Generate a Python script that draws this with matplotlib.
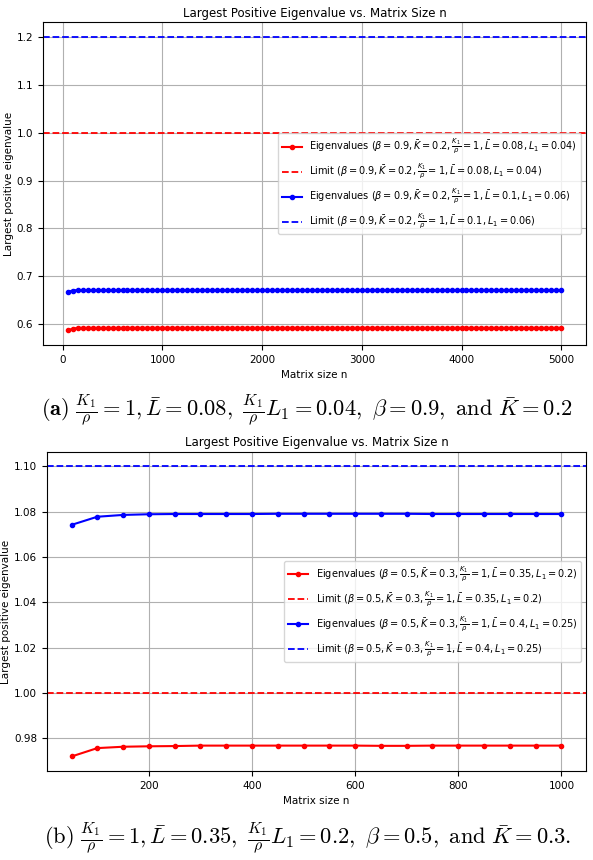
import numpy as np
import matplotlib.pyplot as plt

# panel (a): n = 50 .. 5000
n_a = list(range(50, 5001, 50))
eig_a_red = [0.587, 0.590] + [0.592] * 98
eig_a_blue = [0.667, 0.670] + [0.671] * 98
limit_a_red = 1.0
limit_a_blue = 1.2
labels_a = [
    r'Eigenvalues ($\beta = 0.9, \bar{K} = 0.2, \frac{K_1}{\rho} = 1, \bar{L} = 0.08, L_1 = 0.04$)',
    r'Limit ($\beta = 0.9, \bar{K} = 0.2, \frac{K_1}{\rho} = 1, \bar{L} = 0.08, L_1 = 0.04$)',
    r'Eigenvalues ($\beta = 0.9, \bar{K} = 0.2, \frac{K_1}{\rho} = 1, \bar{L} = 0.1, L_1 = 0.06$)',
    r'Limit ($\beta = 0.9, \bar{K} = 0.2, \frac{K_1}{\rho} = 1, \bar{L} = 0.1, L_1 = 0.06$)',
]

# panel (b): n = 50 .. 1000
n_b = list(range(50, 1001, 50))
eig_b_red = [0.9720, 0.9757, 0.9763, 0.9765, 0.9766, 0.9768, 0.9768, 0.9768,
             0.9768, 0.9768, 0.9768, 0.9768, 0.9767, 0.9767, 0.9768, 0.9768,
             0.9768, 0.9768, 0.9768, 0.9768]
eig_b_blue = [1.0742, 1.0778, 1.0786, 1.0789, 1.0790, 1.0790, 1.0790, 1.0790,
              1.0791, 1.0791, 1.0791, 1.0791, 1.0791, 1.0791, 1.0790, 1.0790,
              1.0790, 1.0790, 1.0790, 1.0790]
limit_b_red = 1.0
limit_b_blue = 1.1
labels_b = [
    r'Eigenvalues ($\beta = 0.5, \bar{K} = 0.3, \frac{K_1}{\rho} = 1, \bar{L} = 0.35, L_1 = 0.2$)',
    r'Limit ($\beta = 0.5, \bar{K} = 0.3, \frac{K_1}{\rho} = 1, \bar{L} = 0.35, L_1 = 0.2$)',
    r'Eigenvalues ($\beta = 0.5, \bar{K} = 0.3, \frac{K_1}{\rho} = 1, \bar{L} = 0.4, L_1 = 0.25$)',
    r'Limit ($\beta = 0.5, \bar{K} = 0.3, \frac{K_1}{\rho} = 1, \bar{L} = 0.4, L_1 = 0.25$)',
]

caption_a = (r'$\mathbf{(a)}\ \frac{K_1}{\rho} = 1, \bar{L} = 0.08,\ \frac{K_1}{\rho}L_1 = 0.04,'
             r'\ \beta = 0.9,\ \mathrm{and}\ \bar{K} = 0.2$')
caption_b = (r'$\mathrm{(b)}\ \frac{K_1}{\rho} = 1, \bar{L} = 0.35,\ \frac{K_1}{\rho}L_1 = 0.2,'
             r'\ \beta = 0.5,\ \mathrm{and}\ \bar{K} = 0.3.$')


def draw_panel(ax, n, red, blue, lim_red, lim_blue, labels):
    ax.plot(n, red, color='red', marker='o', markersize=3, linewidth=1.5, label=labels[0])
    ax.axhline(lim_red, color='red', linestyle='--', linewidth=1.3, label=labels[1])
    ax.plot(n, blue, color='blue', marker='o', markersize=3, linewidth=1.5, label=labels[2])
    ax.axhline(lim_blue, color='blue', linestyle='--', linewidth=1.3, label=labels[3])
    ax.set_title('Largest Positive Eigenvalue vs. Matrix Size n', fontsize=8.5, pad=4)
    ax.set_xlabel('Matrix size n', fontsize=7.5)
    ax.set_ylabel('Largest positive eigenvalue', fontsize=7.5, labelpad=2)
    ax.tick_params(labelsize=7.5)
    ax.grid(True)
    ax.legend(loc='center right', fontsize=7.0, labelspacing=0.65)


fig = plt.figure(figsize=(5.93, 8.6), dpi=100)
ax1 = fig.add_axes([0.0725, 0.599, 0.9155, 0.375])
ax2 = fig.add_axes([0.0793, 0.1035, 0.9087, 0.371])

draw_panel(ax1, n_a, eig_a_red, eig_a_blue, limit_a_red, limit_a_blue, labels_a)
draw_panel(ax2, n_b, eig_b_red, eig_b_blue, limit_b_red, limit_b_blue, labels_b)

fig.text(0.518, 1 - 410 / 860, caption_a, ha='center', va='center',
         fontsize=16.2, math_fontfamily='cm')
fig.text(0.518, 1 - 838 / 860, caption_b, ha='center', va='center',
         fontsize=16.2, math_fontfamily='cm')

fig.savefig('out.png', dpi=100)
